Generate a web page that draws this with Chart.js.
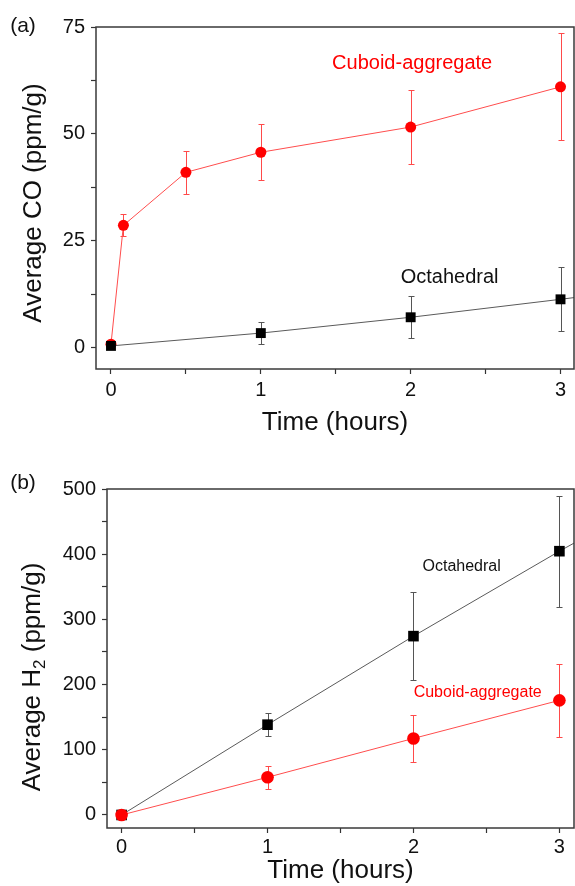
<!DOCTYPE html>
<html lang="en">
<head>
<meta charset="UTF-8">
<title>Average CO and H2 vs time</title>
<script src="https://cdn.jsdelivr.net/npm/chart.js@4.4.1/dist/chart.umd.min.js"></script>
<style>
  html, body { margin: 0; padding: 0; background: #fff; }
  .panel { position: absolute; left: 0; width: 575px; }
  #panelA { top: 0; height: 445px; }
  #panelB { top: 445px; height: 441px; }
</style>
</head>
<body>
<div class="panel" id="panelA"><canvas id="chartA"></canvas></div>
<div class="panel" id="panelB"><canvas id="chartB"></canvas></div>
<script>
// shared axis ticks
const timeTicks = [0, 1, 2, 3];
const coTicks = [0, 25, 50, 75];
const h2Ticks = [0, 100, 200, 300, 400, 500];

// (a) average CO, ppm/g
const coCuboidTime = [0, 0.083, 0.5, 1, 2, 3];
const coCuboid = [0.8, 28.6, 41.0, 45.7, 51.6, 61.0];
const coCuboidErr = [0, 2.6, 5.0, 6.6, 8.7, 12.5];
const coOctaTime = [0, 1, 2, 3];
const coOcta = [0.4, 3.4, 7.1, 11.3];
const coOctaErr = [0, 2.5, 4.9, 7.5];
// line running out past the last point to the frame
const coOctaTailTime = [3, 3.09];
const coOctaTail = [11.3, 11.7];

// (b) average H2, ppm/g
const h2Time = [0, 1, 2, 3];
const h2Cuboid = [0, 57.8, 117.4, 175.8];
const h2CuboidErr = [0, 17.7, 35.6, 56];
const h2Octa = [0, 138.5, 274.3, 404.6];
const h2OctaErr = [0, 18, 67, 85];
const h2OctaTailTime = [3, 3.1];
const h2OctaTail = [404.6, 417];

const FONT = '"Liberation Sans", Arial, sans-serif';
const RED = '#ff0000';

function points(xs, ys) {
    return xs.map((x, i) => ({ x: x, y: ys[i] }));
}

// majors plus one minor tick half way between each pair
function withMinor(major) {
    const out = [];
    major.forEach((v, i) => {
        out.push(v);
        if (i < major.length - 1) out.push((v + major[i + 1]) / 2);
    });
    return out;
}

// vertical error bars, drawn under the markers
const errorBars = {
    id: 'errorBars',
    beforeDatasetsDraw(chart) {
        const ctx = chart.ctx;
        const ys = chart.scales.y;
        chart.data.datasets.forEach((ds, i) => {
            if (!ds.errors) return;
            const meta = chart.getDatasetMeta(i);
            ctx.save();
            ctx.strokeStyle = ds.errorColor;
            ctx.lineWidth = 1;
            meta.data.forEach((pt, j) => {
                const e = ds.errors[j];
                if (!e) return;
                const v = ds.data[j].y;
                const top = Math.round(ys.getPixelForValue(v + e)) + 0.5;
                const bot = Math.round(ys.getPixelForValue(v - e)) + 0.5;
                const x = Math.round(pt.x) + 0.5;
                ctx.beginPath();
                ctx.moveTo(x, top); ctx.lineTo(x, bot);
                ctx.moveTo(x - 3, top); ctx.lineTo(x + 3, top);
                ctx.moveTo(x - 3, bot); ctx.lineTo(x + 3, bot);
                ctx.stroke();
            });
            ctx.restore();
        });
    }
};

// frame, in-plot labels, panel letter and y title (with subscript)
const notes = {
    id: 'notes',
    afterDraw(chart, args, opts) {
        const ctx = chart.ctx;
        const a = chart.chartArea;
        const xs = chart.scales.x, ys = chart.scales.y;
        ctx.save();
        ctx.strokeStyle = '#3a3a3a';
        ctx.lineWidth = 1.5;
        ctx.strokeRect(a.left, a.top, a.right - a.left, a.bottom - a.top);

        ctx.textAlign = 'center';
        ctx.textBaseline = 'middle';
        (opts.labels || []).forEach(l => {
            ctx.fillStyle = l.color;
            ctx.font = l.size + 'px ' + FONT;
            ctx.fillText(l.text, xs.getPixelForValue(l.x), ys.getPixelForValue(l.y));
        });

        ctx.fillStyle = '#111';
        ctx.font = '21px ' + FONT;
        ctx.fillText(opts.panel.text, opts.panel.x, opts.panel.y);

        // rotated y title, built from parts so the "2" can sit low
        const t = opts.yTitle;
        ctx.translate(t.x, t.y);
        ctx.rotate(-Math.PI / 2);
        ctx.textAlign = 'left';
        ctx.textBaseline = 'alphabetic';
        let w = 0;
        t.parts.forEach(p => {
            ctx.font = (p.sub ? 17 : 26) + 'px ' + FONT;
            w += ctx.measureText(p.text).width;
        });
        let cx = -w / 2;
        t.parts.forEach(p => {
            ctx.font = (p.sub ? 17 : 26) + 'px ' + FONT;
            ctx.fillText(p.text, cx, p.sub ? 14 : 9);
            cx += ctx.measureText(p.text).width;
        });
        ctx.restore();
    }
};

function makeChart(id, cfg) {
    return new Chart(document.getElementById(id), {
        type: 'scatter',
        data: { datasets: cfg.datasets },
        options: {
            responsive: true,
            maintainAspectRatio: false,
            animation: false,
            layout: { padding: cfg.padding, autoPadding: false },
            plugins: {
                legend: { display: false },
                tooltip: { enabled: false },
                notes: cfg.notes
            },
            scales: {
                x: {
                    type: 'linear',
                    min: -0.1,
                    max: cfg.xMax,
                    afterFit: s => {
                        s.height = cfg.xHeight;
                        s.paddingLeft = 0;
                        s.paddingRight = 0;
                    },
                    afterBuildTicks: s => { s.ticks = withMinor(timeTicks).map(v => ({ value: v })); },
                    ticks: {
                        autoSkip: false,
                        maxRotation: 0,
                        padding: cfg.xTickPad,
                        color: '#111',
                        font: { family: FONT, size: 20 },
                        callback: v => timeTicks.includes(v) ? String(v) : ''
                    },
                    grid: { drawOnChartArea: false, tickLength: 5, tickColor: '#333', tickWidth: 1.2 },
                    border: { display: false },
                    title: {
                        display: true,
                        text: 'Time (hours)',
                        color: '#111',
                        font: { family: FONT, size: 26 },
                        padding: { top: 0, bottom: cfg.xTitlePad }
                    }
                },
                y: {
                    type: 'linear',
                    min: cfg.yMin,
                    max: cfg.yMax,
                    afterFit: s => {
                        s.width = cfg.yWidth;
                        s.paddingTop = 0;
                        s.paddingBottom = 0;
                    },
                    afterBuildTicks: s => { s.ticks = withMinor(cfg.yTicks).map(v => ({ value: v })); },
                    ticks: {
                        autoSkip: false,
                        padding: 6,
                        color: '#111',
                        font: { family: FONT, size: 20 },
                        callback: v => cfg.yTicks.includes(v) ? String(v) : ''
                    },
                    grid: { drawOnChartArea: false, tickLength: 5, tickColor: '#333', tickWidth: 1.2 },
                    border: { display: false },
                    title: { display: false }
                }
            }
        },
        plugins: [errorBars, notes]
    });
}

function series(xs, ys, errs, kind, radius) {
    const red = kind === 'red';
    return {
        data: points(xs, ys),
        errors: errs,
        errorColor: red ? '#ff4a4a' : '#555',
        showLine: true,
        borderColor: red ? '#ff4d4d' : '#5a5a5a',
        borderWidth: 1,
        pointStyle: red ? 'circle' : 'rect',
        pointRadius: radius,
        pointBackgroundColor: red ? RED : '#000',
        pointBorderColor: red ? RED : '#000',
        pointBorderWidth: 0
    };
}

function tail(xs, ys) {
    return {
        data: points(xs, ys),
        showLine: true,
        borderColor: '#5a5a5a',
        borderWidth: 1,
        pointRadius: 0
    };
}

// (a) black squares sit on top of the red dot at t = 0
makeChart('chartA', {
    padding: { left: 0, right: 1, top: 27, bottom: 0 },
    xMax: 3.09, xHeight: 76, xTickPad: 4, xTitlePad: 7,
    yMin: -5, yMax: 75, yTicks: coTicks, yWidth: 96,
    datasets: [
        series(coOctaTime, coOcta, coOctaErr, 'black', 7),
        tail(coOctaTailTime, coOctaTail),
        series(coCuboidTime, coCuboid, coCuboidErr, 'red', 5.5)
    ],
    notes: {
        panel: { text: '(a)', x: 23, y: 26 },
        yTitle: { x: 32, y: 203, parts: [{ text: 'Average CO (ppm/g)' }] },
        labels: [
            { text: 'Cuboid-aggregate', x: 2.01, y: 66.5, color: RED, size: 20 },
            { text: 'Octahedral', x: 2.26, y: 16.3, color: '#111', size: 20 }
        ]
    }
});

// (b) red dot drawn over the black square at t = 0
makeChart('chartB', {
    padding: { left: 0, right: 1, top: 44, bottom: 0 },
    xMax: 3.1, xHeight: 58, xTickPad: 2, xTitlePad: 0,
    yMin: -20, yMax: 500, yTicks: h2Ticks, yWidth: 107,
    datasets: [
        series(h2Time, h2Cuboid, h2CuboidErr, 'red', 6.3),
        series(h2Time, h2Octa, h2OctaErr, 'black', 7.5),
        tail(h2OctaTailTime, h2OctaTail)
    ],
    notes: {
        panel: { text: '(b)', x: 23, y: 38 },
        yTitle: { x: 31, y: 232, parts: [{ text: 'Average H' }, { text: '2', sub: true }, { text: ' (ppm/g)' }] },
        labels: [
            { text: 'Octahedral', x: 2.33, y: 381, color: '#111', size: 16 },
            { text: 'Cuboid-aggregate', x: 2.44, y: 187, color: RED, size: 16 }
        ]
    }
});
</script>
</body>
</html>
